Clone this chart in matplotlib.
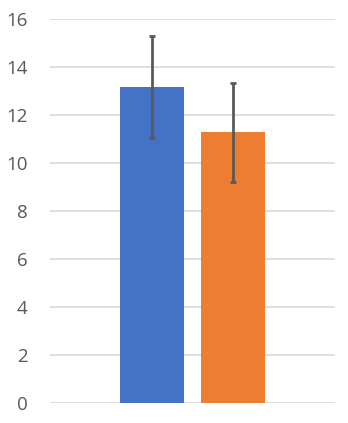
import numpy as np
from matplotlib import pyplot as plt

series_names = ["A", "B"]
means = [13.18, 11.28]
errors = [2.13, 2.06]
colors = ["#4472C4", "#ED7D31"]
y_ticks = [0, 2, 4, 6, 8, 10, 12, 14, 16]

W, H = 348, 423
fig = plt.figure(figsize=(W / 100, H / 100), dpi=100)
ax = fig.add_axes([50 / W, 20 / H, 285 / W, 384 / H])

offsets = [-0.142, 0.142]
bar_w = 0.2235
for off, m, e, c in zip(offsets, means, errors, colors):
    ax.bar(off, m, width=bar_w, color=c, zorder=2)
    ax.errorbar(off, m, yerr=e, fmt="none", ecolor="#595959",
                elinewidth=2, capsize=2.5, capthick=2, zorder=3)

ax.set_xlim(-0.5, 0.5)
ax.set_ylim(0, 16)
ax.set_yticks(y_ticks)
ax.set_yticklabels([str(t) for t in y_ticks], fontsize=13.5,
                   color="#595959", family=["Open Sans", "DejaVu Sans"])
ax.set_xticks([])
ax.tick_params(axis="y", length=0, pad=16)
ax.grid(axis="y", color="#D9D9D9", linewidth=1.2, zorder=0)
for s in ax.spines.values():
    s.set_visible(False)

fig.savefig("out.png", dpi=100)
